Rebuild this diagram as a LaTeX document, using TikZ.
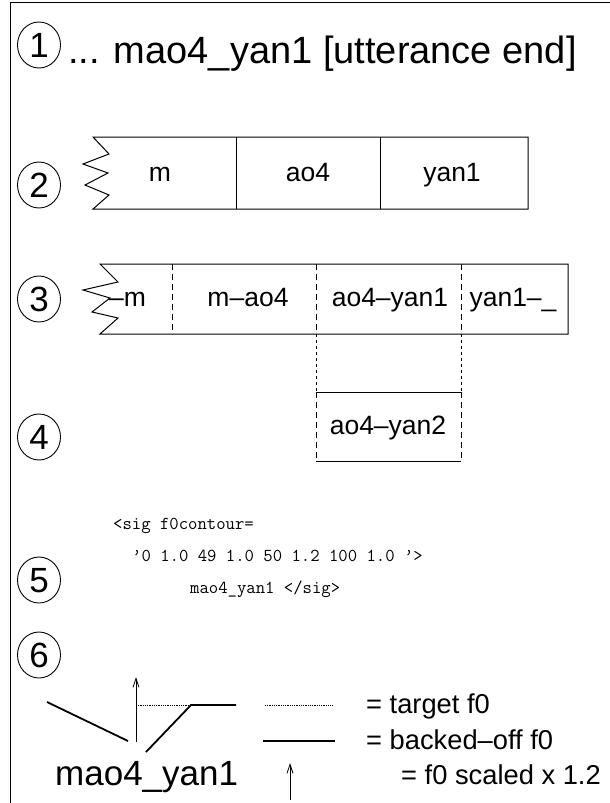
\documentclass[tikz,border=0pt]{standalone}
\usepackage{fontspec}
\setmainfont{Liberation Sans}
\usetikzlibrary{arrows.meta,
	shapes.geometric,
	positioning}

\begin{document}
\begin{tikzpicture}[x=1pt, y=-1pt,
	stepnum/.style={ellipse, draw, line width=0.9pt, minimum width=43pt, minimum height=46pt, inner sep=0pt, text height=25pt, text depth=0pt, font=\fontsize{35}{35}\selectfont},
	segbox/.style={line width=1pt, line join=miter},
	seglabel/.style={inner sep=0pt, text height=19pt, text depth=5.6pt, font=\fontsize{26.5}{26.5}\selectfont},
	keylabel/.style={inner sep=0pt, anchor=west, text height=19.5pt, text depth=5.7pt, font=\fontsize{27.3}{27.3}\selectfont},
	divider/.style={line width=1pt, dash pattern=on 6pt off 4pt},
	gapline/.style={line width=1pt, dash pattern=on 3pt off 3pt},
	codeline/.style={anchor=base west, inner sep=0pt, font=\ttfamily\fontsize{18.2}{18.2}\selectfont},
	contour/.style={line width=1.8pt},
	pitcharrow/.style={line width=0.8pt, -{Straight Barb[length=9pt,width=6pt]}}]
	\useasboundingbox (0,0) rectangle (610,803);
	% frame
	\draw[line width=1pt] (610,2) -- (10,2) -- (10,803);
	% step numbers
	\foreach \n/\y in {1/45, 2/185, 3/299, 4/437, 5/580, 6/655}
		\node[stepnum] (step\n) at (39,\y) {\n};
	% 1: input text
	\node[anchor=base west, inner sep=0pt, font=\fontsize{38}{38}\selectfont] (utt) at (68,63) {... mao4\_yan1 [utterance end]};
	% 2: phones
	\draw[segbox] (93,137) -- (528,137) -- (528,209) -- (93,209) -- (109,195) -- (85,185) -- (108,173) -- (83,164) -- (109,154) -- cycle;
	\draw[segbox] (236,137) -- (236,209);
	\draw[segbox] (380,137) -- (380,209);
	\node[seglabel] (phm) at (160,175) {m};
	\node[seglabel] (phao) at (308,175) {ao4};
	\node[seglabel] (phyan) at (452,175) {yan1};
	% 3: diphones
	\draw[segbox] (100,264) -- (568,264) -- (568,334) -- (100,334) -- (118,318) -- (92,312) -- (110,298) -- (83,290) -- (118,282) -- cycle;
	\foreach \x in {172,316,461}
		\draw[divider] (\x,264) -- (\x,334);
	\node[seglabel, anchor=west] (diA) at (109,300) {–m};
	\node[seglabel] (diB) at (248,300) {m–ao4};
	\node[seglabel] (diC) at (390,300) {ao4–yan1};
	\node[seglabel] (diD) at (513,300) {yan1–\_};
	% 4: replacement diphone
	\foreach \x in {316,461} {
		\draw[gapline] (\x,334) -- (\x,392);
		\draw[divider] (\x,392) -- (\x,461);
	}
	\draw[segbox] (316,392) -- (461,392);
	\draw[segbox] (316,461) -- (461,461);
	\node[seglabel] (diE) at (388,428) {ao4–yan2};
	% 5: markup
	\node[codeline] (sigA) at (113,529) {<sig f0contour=};
	\node[codeline] (sigB) at (132,561) {’0 1.0 49 1.0 50 1.2 100 1.0 ’>};
	\node[codeline] (sigC) at (190,593) {mao4\_yan1 </sig>};
	% 6: f0 contour
	\draw[contour] (47,702) -- (128,741);
	\draw[contour] (146,752) -- (191,705) -- (236,705);
	\draw[line width=0.8pt, densely dotted] (136,705) -- (191,705);
	\draw[pitcharrow] (136,742) -- (136,677);
	\node[anchor=base west, inner sep=0pt, font=\fontsize{35}{35}\selectfont] (word) at (55,785) {mao4\_yan1};
	% legend
	\draw[line width=0.8pt, densely dotted] (265,705) -- (332,705);
	\draw[line width=1.2pt] (263,741) -- (335,741);
	\draw[pitcharrow] (290,800) -- (290,763);
	\node[keylabel] (keyA) at (366,707) {= target f0};
	\node[keylabel] (keyB) at (366,743) {= backed–off f0};
	\node[keylabel] (keyC) at (401,778) {= f0 scaled x 1.2};
\end{tikzpicture}
\end{document}
